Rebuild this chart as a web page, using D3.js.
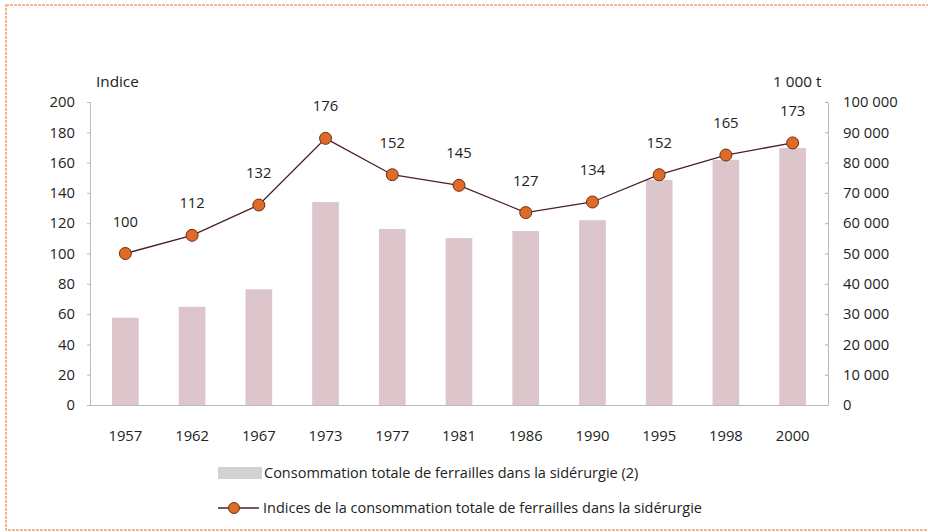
<!DOCTYPE html>
<html><head><meta charset="utf-8">
<script src="https://cdn.jsdelivr.net/npm/d3@7"></script>
<style>body{margin:0;background:#fff}svg{display:block}text{font-family:"Open Sans",sans-serif;fill:#222}</style>
</head><body><svg id="c" width="928" height="532"></svg>
<script>
const years = ["1957","1962","1967","1973","1977","1981","1986","1990","1995","1998","2000"];
const tonnage = [28800,32400,38200,67000,58100,55100,57400,61000,74300,80900,84800];
const indices = [100,112,132,176,152,145,127,134,152,165,173];
const leftTicks = [0,20,40,60,80,100,120,140,160,180,200];
const rightTicks = [0,10000,20000,30000,40000,50000,60000,70000,80000,90000,100000];
const legendLabels = ["Consommation totale de ferrailles dans la sidérurgie (2)","Indices de la consommation totale de ferrailles dans la sidérurgie"];

const svg = d3.select("#c");
svg.append("rect").attr("x",6).attr("y",5).attr("width",940).attr("height",525)
  .attr("fill","none").attr("stroke","#f0a070").attr("stroke-width",1.5).attr("stroke-dasharray","3,1");

const x = d3.scaleBand().domain(years).range([92,826]).paddingInner(0.6).paddingOuter(0.3);
const yL = d3.scaleLinear().domain([0,200]).range([405,102]);
const yR = d3.scaleLinear().domain([0,100000]).range([405,102]);
const fmt = d => d3.format(",")(d).replace(/,/g," ");
const FS = 14.8;

// bars
svg.append("g").selectAll("rect").data(years).join("rect")
  .attr("x",d=>x(d)).attr("width",x.bandwidth())
  .attr("y",(d,i)=>yR(tonnage[i])).attr("height",(d,i)=>yR(0)-yR(tonnage[i]))
  .attr("fill","#dcc6cb");

// axes
const gl = svg.append("g").attr("transform","translate(90,0)")
  .call(d3.axisLeft(yL).tickValues(leftTicks).tickSize(3).tickPadding(12));
gl.select(".domain").attr("stroke","#bbb");
gl.selectAll(".tick line").attr("stroke","#bbb");
gl.selectAll("text").attr("font-size",FS).style("fill","#222");

const gr = svg.append("g").attr("transform","translate(828,0)")
  .call(d3.axisRight(yR).tickValues(rightTicks).tickSize(-3).tickPadding(15).tickFormat(fmt));
gr.select(".domain").attr("stroke","#bbb");
gr.selectAll(".tick line").attr("stroke","#d99");
gr.selectAll("text").attr("font-size",FS).style("fill","#222");

const gb = svg.append("g").attr("transform","translate(0,405)")
  .call(d3.axisBottom(x).tickSize(0).tickPadding(25));
gb.select(".domain").attr("stroke","#bbb").attr("d","M90,0.5H828");
gb.selectAll("text").attr("font-size",FS).style("fill","#222");

svg.append("text").attr("x",96).attr("y",87).attr("font-size",FS+0.5).text("Indice");
svg.append("text").attr("x",773).attr("y",87).attr("font-size",FS+0.5).text("1 000 t");

// line
const cx = d => x(d)+x.bandwidth()/2;
svg.append("path").datum(years)
  .attr("d",d3.line().x(cx).y((d,i)=>yL(indices[i])))
  .attr("fill","none").attr("stroke","#4a2028").attr("stroke-width",1.3);
svg.append("g").selectAll("circle").data(years).join("circle")
  .attr("cx",cx).attr("cy",(d,i)=>yL(indices[i])).attr("r",6)
  .attr("fill","#e06a28").attr("stroke","#6a3010").attr("stroke-width",1);
svg.append("g").selectAll("text").data(years).join("text")
  .attr("x",cx).attr("y",(d,i)=>yL(indices[i])-27).attr("text-anchor","middle")
  .attr("font-size",FS).text((d,i)=>indices[i]);

// legend
svg.append("rect").attr("x",218).attr("y",467).attr("width",44).attr("height",12).attr("fill","#d2d2d2");
svg.append("text").attr("x",264).attr("y",478).attr("font-size",FS-0.3).text(legendLabels[0]);
svg.append("line").attr("x1",218).attr("x2",259).attr("y1",508).attr("y2",508).attr("stroke","#4a2028").attr("stroke-width",1.3);
svg.append("circle").attr("cx",234).attr("cy",508).attr("r",5.5).attr("fill","#e06a28").attr("stroke","#6a3010");
svg.append("text").attr("x",263).attr("y",513).attr("font-size",FS-0.3).text(legendLabels[1]);
</script></body></html>
